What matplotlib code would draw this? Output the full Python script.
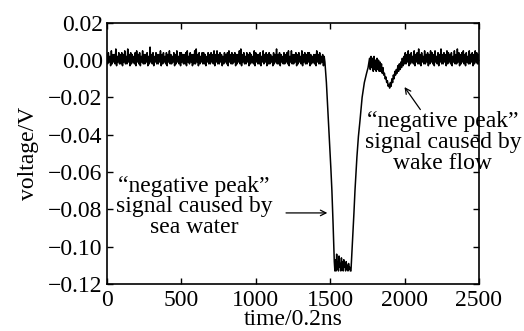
import numpy as np
import matplotlib
matplotlib.use("Agg")
import matplotlib.pyplot as plt

plt.rcParams['font.family'] = ['Liberation Serif', 'DejaVu Serif']

# ---- data (voltage in mV, converted to V below) ----
# baseline noise band, t = 0..1460 step 10: upper and lower excursions
noise_a_hi_mv = [3, 4, 2, 5, 3, 3, 6, 2, 4, 3, 4, 3, 5, 2, 6, 3, 4, 3, 2, 4,
                 5, 3, 4, 2, 5, 3, 3, 4, 2, 7, 3, 4, 2, 4, 3, 3, 5, 3, 4, 2,
                 4, 3, 5, 3, 2, 4, 3, 5, 2, 4, 4, 3, 3, 4, 5, 2, 4, 3, 3, 5,
                 6, 3, 4, 2, 4, 4, 3, 2, 4, 3, 4, 3, 5, 3, 5, 3, 4, 3, 2, 4,
                 3, 4, 5, 3, 4, 3, 4, 3, 3, 5, 6, 3, 4, 2, 4, 3, 4, 3, 2, 5,
                 4, 3, 3, 4, 2, 5, 3, 4, 3, 4, 3, 2, 4, 3, 6, 3, 4, 3, 2, 4,
                 3, 4, 5, 2, 5, 3, 3, 4, 3, 4, 2, 5, 3, 4, 3, 4, 4, 3, 2, 3,
                 3, 5, 3, 4, 2, 3, 2]
noise_a_lo_mv = [-2, -1, -3, -2, -1, -2, -3, -1, -2, -2, -3, -1, -2, -2, -1, -3, -2, -1, -2, -3,
                 -1, -2, -3, -1, -2, -2, -1, -3, -2, -1, -2, -3, -1, -2, -2, -1, -3, -2, -1, -2,
                 -3, -1, -2, -2, -1, -3, -2, -1, -2, -3, -1, -2, -2, -3, -1, -2, -1, -3, -2, -2,
                 -1, -3, -2, -1, -2, -2, -3, -1, -2, -2, -1, -2, -3, -1, -2, -2, -1, -3, -2, -1,
                 -2, -3, -1, -2, -2, -1, -3, -2, -1, -2, -3, -1, -2, -2, -1, -3, -2, -1, -2, -3,
                 -1, -2, -2, -3, -1, -2, -1, -3, -2, -2, -1, -3, -2, -1, -2, -2, -3, -1, -2, -2,
                 -1, -2, -3, -1, -2, -2, -1, -3, -2, -1, -2, -3, -1, -2, -2, -1, -3, -2, -1, -2,
                 -3, -1, -2, -2, -1, -3, -1]
drop_t = [1465, 1475, 1485, 1495, 1505, 1512, 1520, 1528]
drop_mv = [-1, -12, -27, -42, -58, -70, -88, -108]
bottom_t = [1532, 1536, 1540, 1544, 1548, 1552, 1556, 1560, 1564, 1568, 1572, 1576,
            1580, 1584, 1588, 1592, 1596, 1600, 1604, 1608, 1612, 1616, 1620, 1624,
            1628, 1632, 1636, 1640]
bottom_mv = [-113, -107, -113, -104, -112, -108, -113, -105, -111, -109, -113, -106,
             -112, -108, -113, -107, -111, -109, -113, -108, -112, -110, -113, -109,
             -112, -111, -113, -113]
rise_t = [1650, 1660, 1667, 1680, 1690, 1700, 1715, 1730, 1745, 1755]
rise_mv = [-98, -82, -70, -52, -41, -33, -20, -12, -7, -4]
# wake-flow region, t = 1765..2000 step 5
wake_mv = [1, -5, 2, -4, 1, -6, 2, -5, 0, -6, 1, -5, 0, -6, -1, -6, -2, -7, -4, -8,
           -7, -10, -9, -12, -11, -14, -13, -15, -12, -14, -10, -12, -8, -10, -6, -8,
           -5, -7, -3, -6, -2, -5, -1, -4, 1, -3, 2, -2]
# baseline noise band, t = 2005..2495 step 10: upper and lower excursions
noise_b_hi_mv = [4, 3, 5, 3, 4, 2, 5, 3, 4, 6, 3, 4, 2, 5, 3, 4, 3, 5, 4, 3,
                 5, 2, 4, 3, 6, 3, 4, 3, 5, 4, 3, 4, 2, 5, 3, 6, 4, 3, 4, 5,
                 3, 4, 2, 5, 3, 4, 3, 5, 4, 3]
noise_b_lo_mv = [-2, -1, -3, -2, -1, -2, -3, -1, -2, -2, -3, -1, -2, -2, -1, -3, -2, -1, -2, -3,
                 -1, -2, -3, -1, -2, -2, -1, -3, -2, -1, -2, -3, -1, -2, -2, -1, -3, -2, -1, -2,
                 -3, -1, -2, -2, -1, -3, -2, -1, -2, -2]

x_ticks = [0, 500, 1000, 1500, 2000, 2500]
y_ticks = [0.02, 0.00, -0.02, -0.04, -0.06, -0.08, -0.10, -0.12]
y_ticklabels = ['0.02', '0.00', '\u22120.02', '\u22120.04', '\u22120.06',
                '\u22120.08', '\u22120.10', '\u22120.12']


def band(start, stop, hi, lo):
    base = np.arange(start, stop + 1, 10)
    tt = np.empty(2 * len(base))
    vv = np.empty(2 * len(base))
    tt[0::2] = base
    tt[1::2] = base + 5
    vv[0::2] = hi
    vv[1::2] = lo
    return tt, vv


ta, va = band(0, 1460, noise_a_hi_mv, noise_a_lo_mv)
tb, vb = band(2005, 2495, noise_b_hi_mv, noise_b_lo_mv)
wake_t = np.arange(1765, 2001, 5)
t = np.concatenate([ta, drop_t, bottom_t, rise_t, wake_t, tb])
v = np.concatenate([va, drop_mv, bottom_mv, rise_mv, wake_mv, vb]) / 1000.0

fig = plt.figure(figsize=(5.24, 3.31), dpi=100)
ax = fig.add_axes([0.204, 0.142, 0.710, 0.789])
ax.plot(t, v, color='black', lw=1.1)
ax.set_xlim(0, 2500)
ax.set_ylim(-0.12, 0.02)
ax.set_xticks(x_ticks)
ax.set_yticks(y_ticks)
ax.set_yticklabels(y_ticklabels)
ax.tick_params(direction='in', top=True, right=True, length=4, width=1,
               labelsize=17)
ax.tick_params(axis='x', pad=4)
ax.tick_params(axis='y', pad=3)
for s in ax.spines.values():
    s.set_linewidth(1.2)
ax.set_xlabel('time/0.2ns', fontsize=17, labelpad=-1)
ax.set_ylabel('voltage/V', fontsize=17, labelpad=7)

ax.text(585, -0.0787, '\u201cnegative peak\u201d\nsignal caused by\nsea water',
        ha='center', va='center', fontsize=17, linespacing=0.95)
ax.annotate('', xy=(1500, -0.0819), xytext=(1185, -0.0819),
            arrowprops=dict(arrowstyle='->', color='black', lw=0.9))
ax.text(2258, -0.044, '\u201cnegative peak\u201d\nsignal caused by\nwake flow',
        ha='center', va='center', fontsize=17, linespacing=1.0, clip_on=False)
ax.annotate('', xy=(1989, -0.0132), xytext=(2117, -0.0277),
            arrowprops=dict(arrowstyle='->', color='black', lw=0.9))

fig.savefig('out.png', dpi=100)
